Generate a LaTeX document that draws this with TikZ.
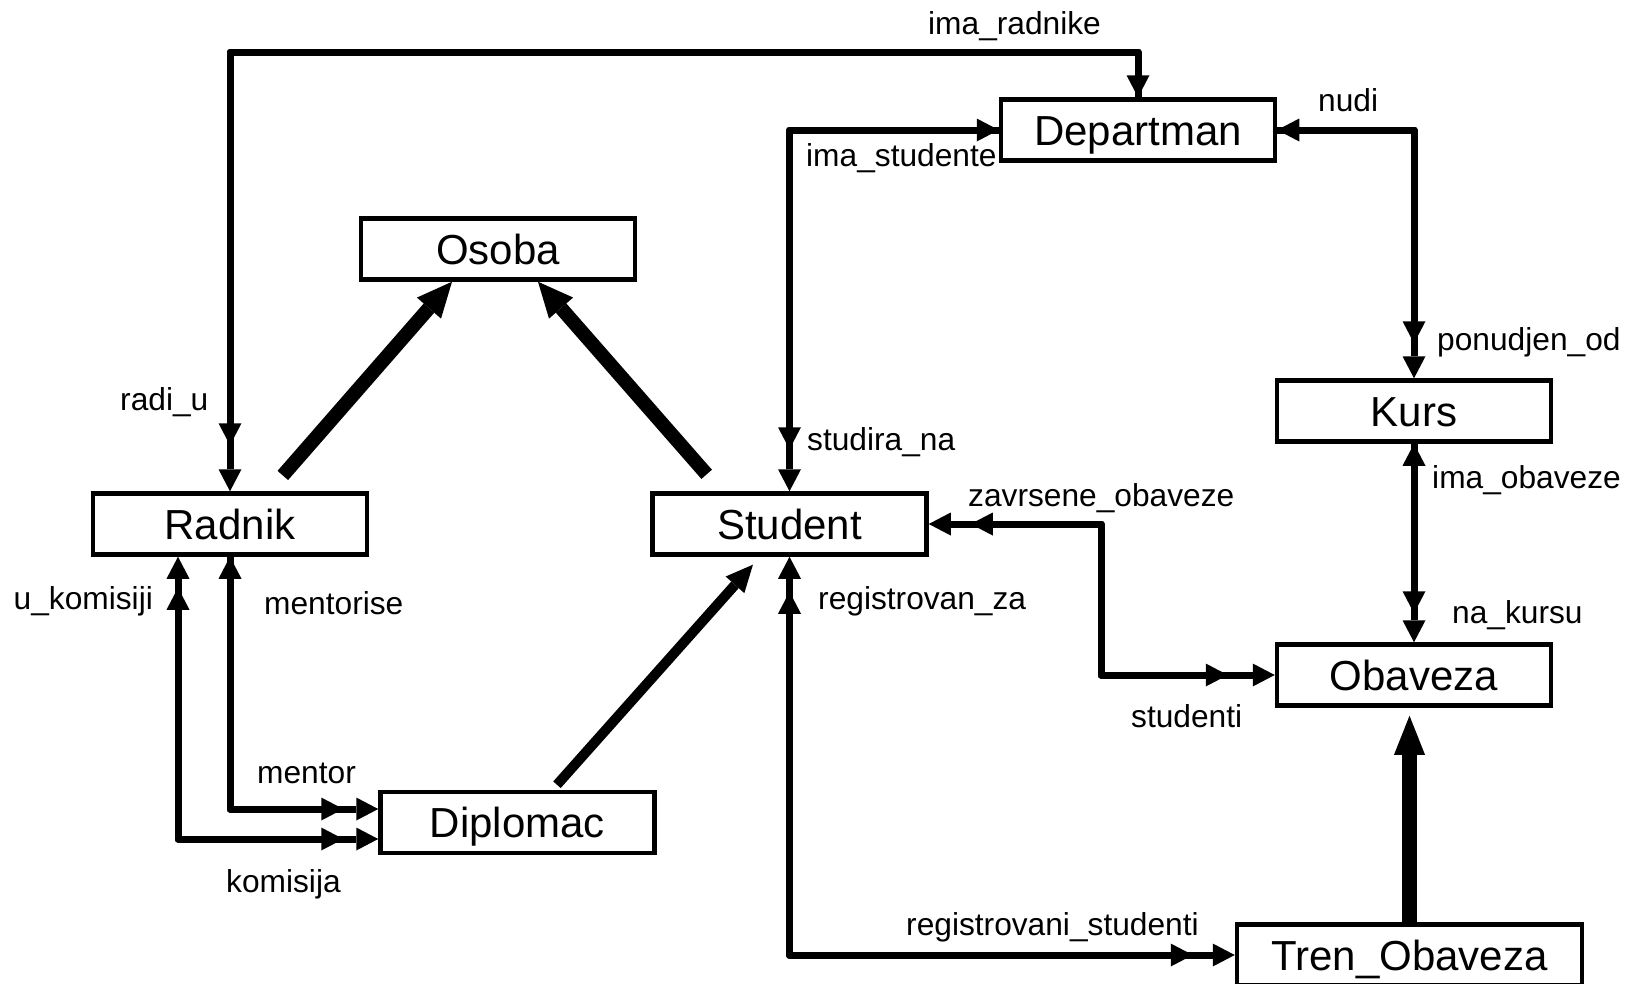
\documentclass[tikz,border=0pt]{standalone}
\usepackage{fontspec}
\setmainfont{Liberation Sans}
\usetikzlibrary{arrows.meta,calc}
\begin{document}
\begin{tikzpicture}[x=1pt,y=-1pt,
  box/.style={draw, line width=4.5pt, minimum width=274pt, minimum height=61pt, inner sep=0pt,
    text height=30pt, text depth=0pt, font=\fontsize{42}{50}\selectfont},
  lbl/.style={inner sep=0pt, anchor=base west, font=\fontsize{31.7}{38}\selectfont},
  conn/.style={line width=7pt, line join=round},
  >={Triangle[length=22pt,width=23pt,line width=0pt]},
  dblend/.style={postaction={draw, ->, shorten >=#1}},
  dblstart/.style={postaction={draw, <-, shorten <=#1}},
  dblboth/.style 2 args={postaction={draw, <->, shorten <=#1, shorten >=#2}},
  inh/.style={line width=14pt, -{Triangle[length=35pt,width=32pt,line width=0pt]}},
  inhthin/.style={line width=10pt, -{Triangle[length=27pt,width=25pt,line width=0pt]}},
  inhvert/.style={line width=15pt, -{Triangle[length=39pt,width=31pt,line width=0pt]}},
]
\useasboundingbox (0,0) rectangle (1631,983);

% entities
\node[box] (departman) at (1138,130) {Departman};
\node[box] (osoba) at (498,249) {Osoba};
\node[box] (radnik) at (230,524) {Radnik};
\node[box] (student) at (789.5,524) {Student};
\node[box] (kurs) at (1414,411) {Kurs};
\node[box] (obaveza) at (1414,675) {Obaveza};
\node[box] (diplomac) at (517.5,822.5) {Diplomac};
\node[box, minimum width=345pt] (tren) at (1409.5,955) {Tren\_Obaveza};

\coordinate (top) at (0,52);
\coordinate (zb) at (1101,600);

% relationships
\draw[conn, <->, dblstart=46pt] (radnik.north) -- (radnik.north |- top) -- (departman.north |- top) -- (departman.north);
\draw[conn, <->, dblstart=42pt] (student.north) |- (departman.west);
\draw[conn, <->, dblend=35pt] (departman.east) -| (kurs.north);
\draw[conn, <->, dblend=29pt] (kurs.south) -- (obaveza.north);
\draw[conn, <->, dblboth={42pt}{47pt}] (student.east) -| (zb) |- (obaveza.west);
\draw[conn, <->, dblboth={35pt}{42pt}] (student.south) |- (tren.west);
\draw[conn, <->, dblend=35pt] (radnik.south) |- ([yshift=13.5pt]diplomac.west);
\draw[conn, <->, dblboth={31pt}{35pt}] ([xshift=-52pt]radnik.south) |- ([yshift=-16.5pt]diplomac.west);

% inheritance
\draw[inh, shorten <=21pt] ([xshift=39pt]radnik.north) -- ([xshift=-46pt]osoba.south);
\draw[inh, shorten <=22.5pt] ([xshift=-68pt]student.north) -- ([xshift=40pt]osoba.south);
\draw[inhthin, shorten <=6.7pt, shorten >=10.6pt] ([xshift=35pt]diplomac.north) -- ([xshift=-29.5pt]student.south);
\draw[inhvert, shorten >=8pt] (tren.north) -- (tren.north |- obaveza.south);

% labels
\node[lbl] (l1) at (928,34.5) {ima\_radnike};
\node[lbl] (l2) at (120,410) {radi\_u};
\node[lbl] (l3) at (806,166) {ima\_studente};
\node[lbl] (l4) at (807,450) {studira\_na};
\node[lbl] (l5) at (1318,111.7) {nudi};
\node[lbl] (l6) at (1437,350) {ponudjen\_od};
\node[lbl] (l7) at (1432,488) {ima\_obaveze};
\node[lbl] (l8) at (1452,623) {na\_kursu};
\node[lbl] (l9) at (968,506) {zavrsene\_obaveze};
\node[lbl] (l10) at (1131,727) {studenti};
\node[lbl] (l11) at (818,609) {registrovan\_za};
\node[lbl] (l12) at (906,935) {registrovani\_studenti};
\node[lbl] (l13) at (264,614.5) {mentorise};
\node[lbl] (l14) at (257,783) {mentor};
\node[lbl] (l15) at (13.5,609) {u\_komisiji};
\node[lbl] (l16) at (226,892) {komisija};
\end{tikzpicture}
\end{document}
